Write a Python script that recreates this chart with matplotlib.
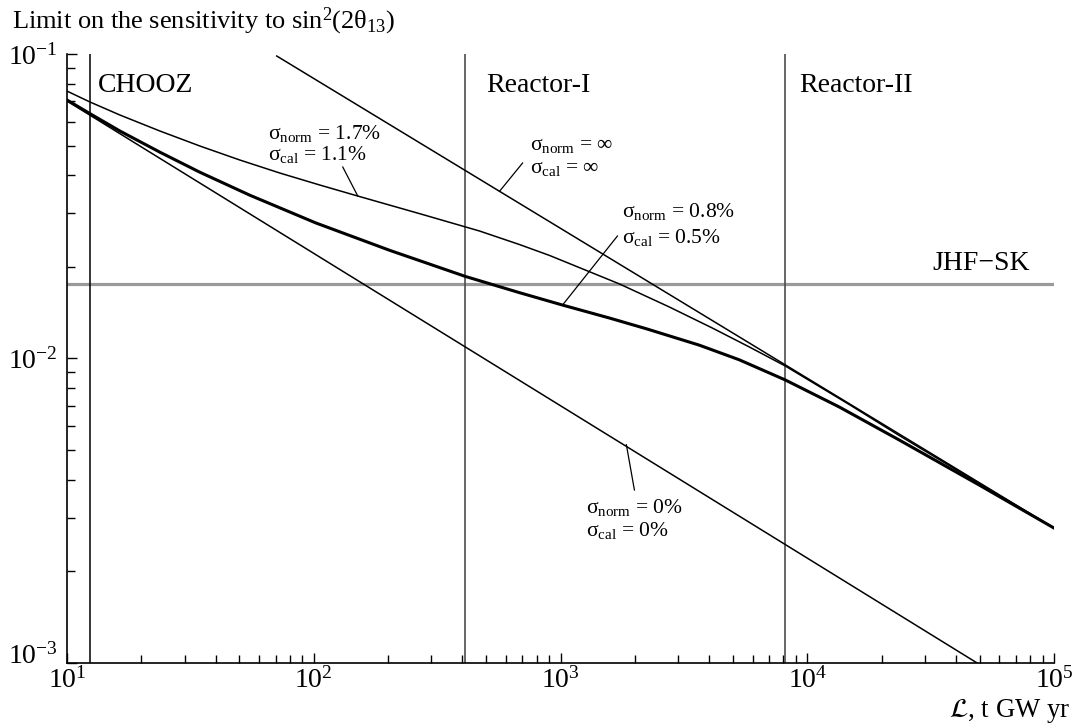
import numpy as np
import matplotlib.pyplot as plt
from matplotlib.ticker import LogLocator, NullFormatter, FuncFormatter

plt.rcParams['font.family'] = ['Liberation Serif', 'DejaVu Serif']
plt.rcParams['mathtext.fontset'] = 'custom'
plt.rcParams['mathtext.rm'] = 'Liberation Serif'
plt.rcParams['mathtext.it'] = 'Liberation Serif:italic'
plt.rcParams['mathtext.bf'] = 'Liberation Serif:bold'

# --- sensitivity curves (exposure in t GW yr, limit on sin^2(2theta13)) ---
# sigma_norm = 0, sigma_cal = 0 (pure statistics)
L_zero = [10, 4.878e4]
s_zero = [0.0701, 1.0e-3]

# sigma_norm = inf, sigma_cal = inf (shape only)
L_inf = [70.8, 1.0e5]
s_inf = [0.0985, 2.774e-3]

# sigma_norm = 1.7%, sigma_cal = 1.1%
L_17 = [10, 12.39, 16.39, 23.80, 34.56, 50.17, 72.84, 105.8, 150.7, 268.6,
        470.0, 682.3, 902.6, 1734, 2762, 4125, 5825, 8145, 14790, 23580,
        49710, 1.0e5]
s_17 = [0.07556, 0.06957, 0.06304, 0.05586, 0.04987, 0.04486, 0.04066,
        0.03713, 0.03417, 0.02990, 0.02622, 0.02367, 0.02180, 0.01757,
        0.01476, 0.01259, 0.01091, 0.009449, 0.007063, 0.005586, 0.003886,
        0.002774]

# sigma_norm = 0.8%, sigma_cal = 0.5%
L_08 = [10, 12.39, 16.39, 23.80, 34.56, 55.07, 101.9, 203.1, 412.5, 682.3,
        1019, 1579, 2229, 3654, 5305, 8145, 13480, 23580, 49710, 1.0e5]
s_08 = [0.07063, 0.06371, 0.05586, 0.04760, 0.04090, 0.03438, 0.02788,
        0.02266, 0.01859, 0.01645, 0.01498, 0.01358, 0.01252, 0.01106,
        0.00990, 0.008502, 0.00693, 0.00540, 0.003842, 0.002774]

# experiment reaches
chooz_L = 12.4
reactor1_L = 411
reactor2_L = 8150
jhf_sk = 0.0176

fig = plt.figure(figsize=(10.75, 7.23), dpi=100)
ax = fig.add_axes([0.0623, 0.0830, 0.9182, 0.8423])
ax.set_xscale('log')
ax.set_yscale('log')
ax.set_xlim(10, 1e5)
ax.set_ylim(1e-3, 1e-1)

# reach lines
ax.axvline(chooz_L, color='black', lw=1.1, zorder=2)
ax.axvline(reactor1_L, color='#4d4d4d', lw=1.2, zorder=2)
ax.axvline(reactor2_L, color='#4d4d4d', lw=1.2, zorder=2)
ax.axhline(jhf_sk, color='#9a9a9a', lw=2.3, zorder=1)

ax.plot(L_zero, s_zero, color='black', lw=1.1, zorder=3)
ax.plot(L_inf, s_inf, color='black', lw=1.1, zorder=3)
ax.plot(L_17, s_17, color='black', lw=1.1, zorder=3)
ax.plot(L_08, s_08, color='black', lw=2.2, zorder=3)

# region names
ax.text(13.35, 0.0791, 'CHOOZ', fontsize=20, va='center', ha='left')
ax.text(501.6, 0.0791, 'Reactor-I', fontsize=20, va='center', ha='left')
ax.text(9282, 0.0791, 'Reactor-II', fontsize=20, va='center', ha='left')
ax.text(32070, 0.02044, 'JHF\u2212SK', fontsize=20, va='center', ha='left')

# curve labels with leaders
def curve_label(x, y1, y2, norm, cal, leader):
    ax.text(x, y1, '\u03c3$_{\\rm norm}$ = ' + norm, fontsize=15.5,
            va='center', ha='left')
    ax.text(x, y2, '\u03c3$_{\\rm cal}$ = ' + cal, fontsize=15.5,
            va='center', ha='left')
    (xa, ya), (xb, yb) = leader
    ax.plot([xa, xb], [ya, yb], color='black', lw=0.9, zorder=3)

curve_label(65.1, 0.0550, 0.0466, '1.7%', '1.1%',
            ((131.1, 0.04255), (150.7, 0.0342)))
curve_label(749, 0.0502, 0.0422, '\u221e', '\u221e',
            ((702, 0.04385), (566, 0.0354)))
curve_label(1782, 0.03028, 0.02506, '0.8%', '0.5%',
            ((1701, 0.02525), (1019, 0.01498)))
curve_label(1274, 0.003253, 0.002733, '0%', '0%',
            ((1993, 0.003699), (1849, 0.00521)))

# axes styling
for side in ('top', 'right'):
    ax.spines[side].set_visible(False)
for side in ('left', 'bottom'):
    ax.spines[side].set_linewidth(1.2)

ax.xaxis.set_major_locator(LogLocator(base=10, numticks=10))
ax.xaxis.set_minor_locator(LogLocator(base=10, subs=np.arange(2, 10), numticks=10))
ax.yaxis.set_major_locator(LogLocator(base=10, numticks=10))
ax.yaxis.set_minor_locator(LogLocator(base=10, subs=np.arange(2, 10), numticks=10))
ax.xaxis.set_minor_formatter(NullFormatter())
ax.yaxis.set_minor_formatter(NullFormatter())

# the lowest y label sits a bit higher so it clears the 10^1 label
def y_label(v, pos):
    if v <= 1.0001e-3:
        return ''
    return r'$\mathdefault{10^{%d}}$' % round(np.log10(v))

ax.yaxis.set_major_formatter(FuncFormatter(y_label))
ax.annotate(r'$\mathdefault{10^{-3}}$', xy=(0, 0), xycoords='axes fraction',
            xytext=(-6.5, 5), textcoords='offset points',
            ha='right', va='center', fontsize=20)

ax.tick_params(which='both', direction='in', top=False, right=False, width=1.0)
ax.tick_params(which='major', length=7.5)
ax.tick_params(which='minor', length=5.5)
ax.tick_params(axis='x', which='major', labelsize=20, pad=3)
ax.tick_params(axis='y', which='major', labelsize=20, pad=6.5)

fig.text(0.0115, 0.960, 'Limit on the sensitivity to sin$^2$(2\u03b8$_{13}$)',
         fontsize=19, ha='left', va='baseline')
fig.text(0.9953, 0.0083, r'$\mathcal{L}$, t GW yr', fontsize=19.3,
         ha='right', va='baseline', math_fontfamily='stix')

fig.savefig('out.png', dpi=100)
